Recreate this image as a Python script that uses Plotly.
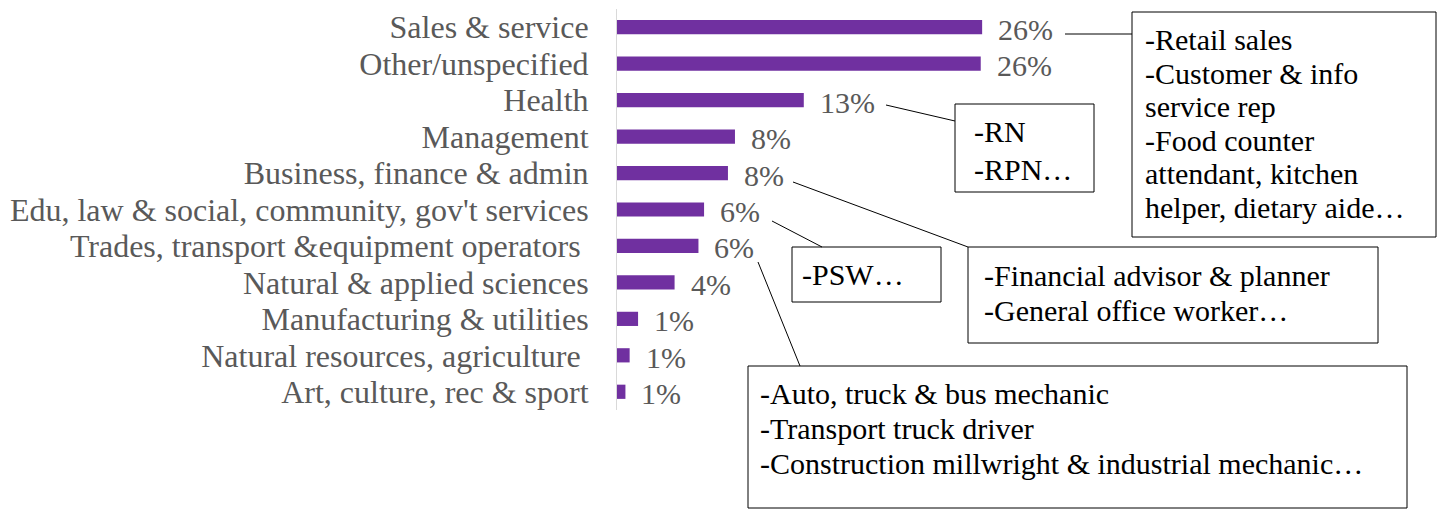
import plotly.graph_objects as go

# ---- data ----
categories = [
    "Sales & service",
    "Other/unspecified",
    "Health",
    "Management",
    "Business, finance & admin",
    "Edu, law & social, community, gov't services",
    "Trades, transport &equipment operators\u00a0",
    "Natural & applied sciences",
    "Manufacturing & utilities",
    "Natural resources, agriculture\u00a0",
    "Art, culture, rec & sport",
]
values = [26.0, 25.9, 13.3, 8.4, 7.9, 6.2, 5.8, 4.1, 1.5, 0.9, 0.6]
value_labels = ["26%", "26%", "13%", "8%", "8%", "6%", "6%", "4%", "1%", "1%", "1%"]

callout_sales = ["-Retail sales", "-Customer & info", "service rep", "-Food counter",
                 "attendant, kitchen", "helper, dietary aide\u2026"]
callout_health = ["-RN", "-RPN\u2026"]
callout_edu = ["-PSW\u2026"]
callout_business = ["-Financial advisor & planner", "-General office worker\u2026"]
callout_trades = ["-Auto, truck & bus mechanic", "-Transport truck driver",
                  "-Construction millwright & industrial mechanic\u2026"]

# ---- layout geometry ----
W, H = 1447, 510
L, R, T, B = 617, 0, 9, 100
PW, PH = W - L - R, H - T - B
XMAX = 59.1

def px(x):
    return (x - L) / PW

def py(y):
    return (H - B - y) / PH

FONT = "Liberation Serif, Tinos, Nimbus Roman, Times New Roman, DejaVu Serif, serif"
GRAY = "#595959"

fig = go.Figure()
fig.add_trace(go.Bar(
    x=values, y=categories, orientation="h",
    marker=dict(color="#7030A0", line=dict(width=0)),
    hoverinfo="skip",
))

annotations = []
for c, v, t in zip(categories, values, value_labels):
    annotations.append(dict(
        x=v, y=c, xref="x", yref="y", text=t, showarrow=False,
        xanchor="left", yanchor="middle", xshift=14, yshift=-2,
        font=dict(family=FONT, size=30, color=GRAY),
    ))

shapes = []

def box(x0, y0, x1, y1, lines, tx, ty0, dy):
    shapes.append(dict(type="rect", xref="paper", yref="paper",
                       x0=px(x0), x1=px(x1), y0=py(y1), y1=py(y0),
                       line=dict(color="#000000", width=1), fillcolor="white", layer="above"))
    for i, ln in enumerate(lines):
        annotations.append(dict(
            x=px(tx), y=py(ty0 + i * dy), xref="paper", yref="paper", text=ln,
            showarrow=False, xanchor="left", yanchor="middle",
            font=dict(family=FONT, size=30, color="#000000"),
        ))

def connector(x0, y0, x1, y1):
    shapes.append(dict(type="line", xref="paper", yref="paper",
                       x0=px(x0), y0=py(y0), x1=px(x1), y1=py(y1),
                       line=dict(color="#000000", width=1)))

box(1132, 12, 1436, 237, callout_sales, 1143, 40, 33.4)
connector(1065, 34, 1132, 34)

box(955, 104, 1094, 192, callout_health, 972, 131, 38)
connector(886, 105, 955, 121)

box(792, 247, 941, 302, callout_edu, 800, 274, 34)
connector(772, 221, 822, 247)

box(968, 247, 1378, 343, callout_business, 982, 275, 35)
connector(793, 182, 968, 247)

box(748, 366, 1407, 508, callout_trades, 758, 393, 35)
connector(758, 262, 800, 366)

fig.update_layout(
    width=W, height=H,
    margin=dict(l=L, r=R, t=T, b=B, pad=0, autoexpand=False),
    paper_bgcolor="white", plot_bgcolor="white",
    showlegend=False, bargap=0.61,
    font=dict(family=FONT),
    xaxis=dict(range=[0, XMAX], visible=False, fixedrange=True, automargin=False),
    yaxis=dict(
        type="category", range=[10.5, -0.5],
        tickmode="array", tickvals=categories, ticktext=categories,
        showline=True, linecolor="#d9d9d9", linewidth=1,
        ticks="", showgrid=False, zeroline=False, automargin=False,
        tickfont=dict(family=FONT, size=32, color=GRAY),
        ticklabelstandoff=21, fixedrange=True,
    ),
    annotations=annotations, shapes=shapes,
)

fig.write_html("out.html", config={"displayModeBar": False},
               post_script="document.body.style.margin='0px';")
